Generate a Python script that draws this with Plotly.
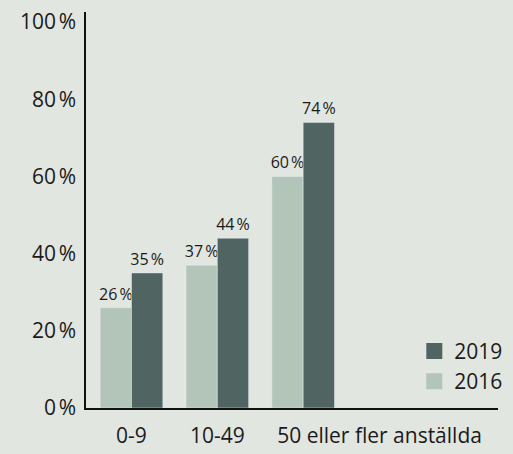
import plotly.graph_objects as go

categories = ["0-9", "10-49", "50 eller fler anställda"]
values_2016 = [26, 37, 60]
values_2019 = [35, 44, 74]
y_ticks = [0, 20, 40, 60, 80, 100]

BG = "#e2e6e1"
LIGHT = "#b3c4b9"
DARK = "#506462"
FONT = "Open Sans"
TXT = "#1a1a1a"
NS = "\u202f"

pos = list(range(len(categories)))

fig = go.Figure()
for name, vals, col in [("2016", values_2016, LIGHT), ("2019", values_2019, DARK)]:
    fig.add_trace(go.Bar(
        x=pos, y=vals, name=name, marker_color=col, showlegend=False,
        text=[f"{v}{NS}%" for v in vals], textposition="outside",
        textfont=dict(size=16, color=TXT, family=FONT), cliponaxis=False,
        constraintext="none", legendgroup=name,
    ))
for name, col in [("2016", LIGHT), ("2019", DARK)]:
    fig.add_trace(go.Scatter(
        x=[None], y=[None], mode="markers", name=name, legendgroup=name,
        marker=dict(symbol="square", size=18, color=col),
    ))

fig.update_layout(
    width=513, height=454,
    margin=dict(l=86, r=5, t=12, b=42),
    paper_bgcolor=BG, plot_bgcolor=BG,
    barmode="group", bargap=0.27, bargroupgap=0,
    font=dict(family=FONT, size=21, color=TXT),
    showlegend=True,
    legend=dict(x=1.025, xanchor="right", y=0.195, yanchor="top",
                traceorder="reversed", bgcolor="rgba(0,0,0,0)",
                font=dict(size=21), itemsizing="trace", itemwidth=30,
                tracegroupgap=0),
)
fig.update_xaxes(
    range=[-0.53, 4.27], showgrid=False, zeroline=False,
    showline=True, linecolor="#111", linewidth=1.5,
    tickvals=[0, 1, 2.89], ticktext=categories, ticks="",
    ticklabelstandoff=8, tickfont=dict(size=21),
)
fig.update_yaxes(
    range=[0, 102.6], showgrid=False, zeroline=False,
    showline=True, linecolor="#111", linewidth=1.5,
    tickvals=y_ticks, ticktext=[f"{v}{NS}%" for v in y_ticks], ticks="",
    ticklabelstandoff=4, tickfont=dict(size=21),
)

fig.write_html("out.html")
